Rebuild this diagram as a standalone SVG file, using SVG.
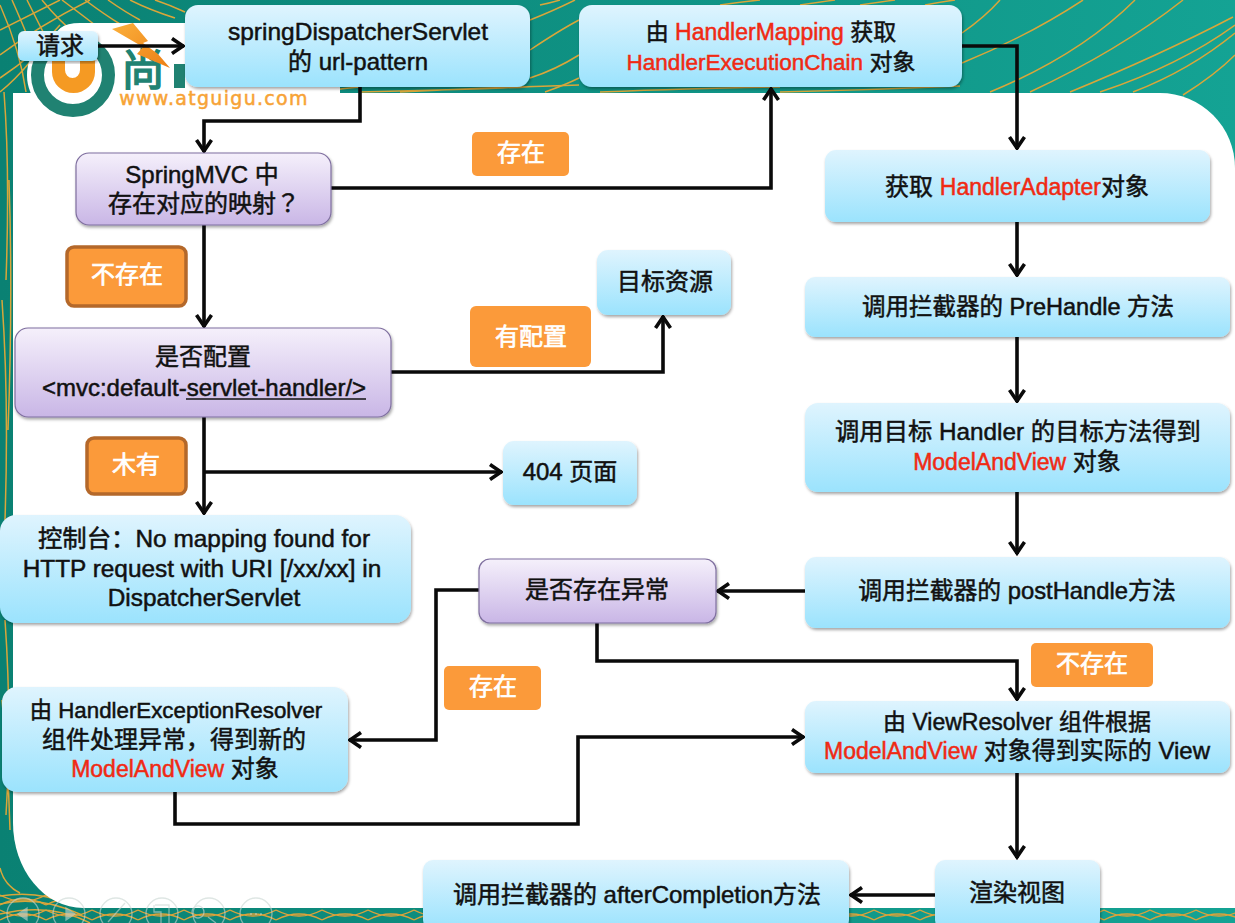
<svg xmlns="http://www.w3.org/2000/svg" width="1235" height="923" viewBox="0 0 1235 923">
<style>
text{font-family:"Liberation Sans","Noto Sans CJK SC",sans-serif;font-size:24px;fill:#111;text-anchor:middle;stroke:#111;stroke-width:.5px}
.r{fill:#f02a14;stroke:#f02a14;font-size:23px}
.m{font-size:23px}
.w{fill:#fff;stroke:#fff;stroke-width:.7px;font-size:24px}
.blue{fill:url(#gb);filter:url(#sh)}
.pur{fill:url(#gp);stroke:#7f6f9f;stroke-width:1.2;filter:url(#sh)}
.or{fill:#fb9a3a}
.orb{fill:#fb9a3a;stroke:#b4682a;stroke-width:3.5}
.con{fill:none;stroke:#0a0a0a;stroke-width:3.6;stroke-linejoin:miter}
.arr{marker-end:url(#a)}
.wave{fill:none;stroke:#d9a63a;stroke-width:1.5}
.tb{fill:none;stroke:#c9d6d2;stroke-width:1.3;opacity:.6}
</style>
<defs>
<linearGradient id="gb" x1="0" y1="0" x2="0" y2="1"><stop offset="0" stop-color="#dff4fe"/><stop offset="1" stop-color="#9be3fd"/></linearGradient>
<linearGradient id="gp" x1="0" y1="0" x2="0" y2="1"><stop offset="0" stop-color="#f5f0fb"/><stop offset="1" stop-color="#c9b6e6"/></linearGradient>
<linearGradient id="bg" x1="0" y1="0" x2="1" y2="0"><stop offset="0" stop-color="#0a8173"/><stop offset="1" stop-color="#14a394"/></linearGradient>
<linearGradient id="bolt" x1="0" y1="0" x2="1" y2="1"><stop offset="0" stop-color="#fbb03b"/><stop offset="1" stop-color="#ec7f16"/></linearGradient>
<pattern id="lat" patternUnits="userSpaceOnUse" width="46" height="15" y="908"><path d="M0 2Q23 14 46 2M0 12Q23 0 46 12" fill="none" stroke="#dba23a" stroke-width="1.4"/></pattern>
<filter id="sh" x="-5%" y="-5%" width="110%" height="115%"><feDropShadow dx="1" dy="2" stdDeviation="1.6" flood-color="#000" flood-opacity=".35"/></filter>
<marker id="a" markerUnits="userSpaceOnUse" markerWidth="20" markerHeight="20" refX="15" refY="9" orient="auto"><path d="M3 1.500 L14 9 L3 16.500" fill="none" stroke="#0a0a0a" stroke-width="3.6"/></marker>
</defs>
<g id="background">
<rect width="1235" height="923" fill="url(#bg)"/>
<rect y="893" width="1235" height="30" fill="url(#lat)"/>
<g class="wave">
<path d="M962 33Q985 17 1000 0M962 63Q1030 35 1083 0M990 92Q1080 55 1135 0M1030 92Q1120 50 1183 0M1070 92Q1160 55 1233 17M1100 92Q1180 65 1235 25M1133 92Q1190 70 1235 33M1183 95Q1215 75 1235 55"/>
<path d="M530 20Q555 10 575 0M530 50Q560 30 579 20M530 78Q555 70 579 55M545 92Q565 85 579 78M720 5Q740 2 760 0M800 5Q820 2 835 0M860 5Q880 2 895 0M925 5Q940 2 955 0M540 5Q550 3 560 0"/>
<path d="M320 92Q345 88 360 87M360 92Q450 90 530 87M400 92Q480 88 579 85M600 92Q700 88 780 87M780 92Q870 90 960 86"/>
<path d="M0 5Q20 50 26 92M12 0Q32 45 42 75M27 0Q47 40 55 55M42 0Q60 22 75 33M62 0Q82 15 95 25M85 0Q105 15 120 24M108 0Q125 12 140 20M130 0Q150 10 175 18M155 0Q170 5 185 12M0 30Q30 15 60 0M0 55Q40 25 90 0M0 78Q35 55 60 25M0 92Q15 80 30 62"/>
<path d="M4 92Q10 170 6 280M9 180Q13 300 8 430M2 300Q9 400 5 520M5 620Q12 720 6 815M2 700Q8 760 10 830"/>
<path d="M0 896Q40 890 70 905M0 904Q40 895 82 915M0 914Q50 902 90 923M0 868Q4 885 20 893"/>
</g>
<path d="M13 93H1160A75 75 0 0 1 1235 168V908H83A70 85 0 0 1 13 823Z" fill="#fff"/>
</g>
<g id="logo">
<path d="M54 93V43Q54 23 80 23H320V87H340V93Z" fill="#fff"/>
<circle cx="73" cy="75" r="46" fill="#fff"/>
<circle cx="73" cy="75" r="35.500" fill="none" stroke="#208272" stroke-width="13"/>
<path d="M52 45V72A21.500 21 0 0 0 95 72V45H80V70A7.500 8 0 0 1 65 70V45Z" fill="#f59a23"/>
<text x="143" y="86" style="font-size:44px;fill:#208272;stroke:#208272;stroke-width:1.400px">尚</text>
<path d="M174 64H185V88H174Z" fill="#208272"/>
<text x="214" y="105" style="font-size:19px;fill:#f7a335;stroke:#f7a335;letter-spacing:1.300px;font-family:'DejaVu Sans',sans-serif">www.atguigu.com</text>
<path d="M112 29L133 23 148 41 143 43 158 54 170 68 137 54 143 47Z" fill="url(#bolt)"/>
</g>
<g id="toolbar" class="tb">
<circle cx="23" cy="914" r="16"/><circle cx="69" cy="914" r="16"/><circle cx="116" cy="914" r="16"/><circle cx="162" cy="914" r="16"/><circle cx="209" cy="914" r="16"/><circle cx="256" cy="914" r="16"/>
<path d="M27 908L18 914 27 920ZM66 908L75 914 66 920Z" fill="#c9d6d2"/>
<path d="M108 922L125 903M155 905H169V923M154 905V912H161V923M204 912A6 6 0 1 1 204 911.900M208 917L216 923"/>
<path d="M250 914H252M255 914H257M260 914H262"/>
</g>
<g id="connectors">
<path class="con arr" d="M98 46H184"/>
<path class="con arr" d="M360 87V121H204V152"/>
<path class="con arr" d="M331 188H771V88"/>
<path class="con arr" d="M962 46H1017V149"/>
<path class="con arr" d="M1017 222V276"/>
<path class="con arr" d="M1017 337V402"/>
<path class="con arr" d="M1017 492V554"/>
<path class="con arr" d="M805 591H717"/>
<path class="con arr" d="M597 623V661H1017V700"/>
<path class="con arr" d="M479 590H436V740H349"/>
<path class="con arr" d="M175 792V824H578V737H804"/>
<path class="con arr" d="M1017 773V858"/>
<path class="con arr" d="M935 895H850"/>
<path class="con arr" d="M204 225V327"/>
<path class="con arr" d="M391 372H663V316"/>
<path class="con arr" d="M204 417V514"/>
<path class="con arr" d="M204 472H502"/>
</g>
<g id="n-request"><rect class="blue" x="18" y="31" width="80" height="30" rx="6"/><text x="60" y="54">请求</text></g>
<g id="n-servlet"><rect class="blue" x="185" y="5" width="345" height="82" rx="13"/><text x="358" y="40" style="font-size:24.500px">springDispatcherServlet</text><text x="358" y="70">的 url-pattern</text></g>
<g id="n-mapping"><rect class="blue" x="579" y="5" width="383" height="82" rx="13"/><text x="771" y="40" class="m">由 <tspan class="r">HandlerMapping</tspan> 获取</text><text x="771" y="70" class="m"><tspan class="r" style="font-size:22.500px">HandlerExecutionChain</tspan> 对象</text></g>
<g id="n-adapter"><rect class="blue" x="825" y="150" width="385" height="72" rx="11"/><text x="1017" y="195">获取 <tspan class="r">HandlerAdapter</tspan>对象</text></g>
<g id="n-prehandle"><rect class="blue" x="805" y="277" width="425" height="60" rx="10"/><text x="1018" y="315" style="font-size:23.500px">调用拦截器的 PreHandle 方法</text></g>
<g id="n-handler"><rect class="blue" x="805" y="403" width="425" height="89" rx="13"/><text x="1018" y="440" style="font-size:24.300px">调用目标 Handler 的目标方法得到</text><text x="1017" y="470"><tspan class="r">ModelAndView</tspan> 对象</text></g>
<g id="n-posthandle"><rect class="blue" x="805" y="557" width="425" height="71" rx="11"/><text x="1017" y="599" style="font-size:23.800px">调用拦截器的 postHandle方法</text></g>
<g id="n-viewresolver"><rect class="blue" x="805" y="701" width="425" height="72" rx="11"/><text x="1017" y="730" class="m">由 ViewResolver 组件根据</text><text x="1017" y="759"><tspan class="r">ModelAndView</tspan> 对象得到实际的 View</text></g>
<g id="n-render"><rect class="blue" x="935" y="860" width="165" height="70" rx="10"/><text x="1017" y="901">渲染视图</text></g>
<g id="n-aftercompletion"><rect class="blue" x="423" y="860" width="426" height="70" rx="10"/><text x="637" y="903">调用拦截器的 afterCompletion方法</text></g>
<g id="n-springmvc"><rect class="pur" x="76" y="153" width="255" height="72" rx="13"/><text x="202" y="183">SpringMVC 中</text><text x="204" y="212">存在对应的映射<tspan style="font-family:'Noto Sans CJK TC',sans-serif">？</tspan></text></g>
<g id="n-default"><rect class="pur" x="15" y="328" width="376" height="89" rx="13"/><text x="203" y="365">是否配置</text><text x="204" y="396">&lt;mvc:default-servlet-handler/&gt;</text><path d="M186 399H366" stroke="#111" stroke-width="1.500"/></g>
<g id="n-target"><rect class="blue" x="597" y="250" width="134" height="65" rx="11"/><text x="665" y="290">目标资源</text></g>
<g id="n-404"><rect class="blue" x="503" y="441" width="134" height="64" rx="11"/><text x="570" y="480">404 页面</text></g>
<g id="n-console"><rect class="blue" x="0" y="515" width="411" height="108" rx="16"/><text x="204" y="547" style="font-size:24.400px">控制台：No mapping found for</text><text x="202" y="577" style="font-size:24.400px">HTTP request with URI [/xx/xx] in</text><text x="204" y="606" style="font-size:24.400px">DispatcherServlet</text></g>
<g id="n-exception"><rect class="pur" x="479" y="559" width="237" height="64" rx="11"/><text x="597" y="598">是否存在异常</text></g>
<g id="n-resolver"><rect class="blue" x="2" y="687" width="346" height="105" rx="15"/><text x="176" y="718" style="font-size:22.300px">由 HandlerExceptionResolver</text><text x="174" y="748">组件处理异常，得到新的</text><text x="175" y="777"><tspan class="r">ModelAndView</tspan> 对象</text></g>
<g id="l-exist1"><rect class="or" x="472" y="132" width="97" height="44" rx="5"/><text class="w" x="521" y="161">存在</text></g>
<g id="l-none1"><rect class="orb" x="67" y="247" width="119" height="59" rx="7"/><text class="w" x="127" y="283">不存在</text></g>
<g id="l-config"><rect class="or" x="470" y="306" width="121" height="61" rx="6"/><text class="w" x="531" y="345">有配置</text></g>
<g id="l-none2"><rect class="orb" x="87" y="438" width="99" height="56" rx="7"/><text class="w" x="136" y="473">木有</text></g>
<g id="l-exist2"><rect class="or" x="444" y="666" width="97" height="44" rx="5"/><text class="w" x="493" y="695">存在</text></g>
<g id="l-none3"><rect class="or" x="1031" y="643" width="122" height="44" rx="5"/><text class="w" x="1092" y="672">不存在</text></g>
</svg>
